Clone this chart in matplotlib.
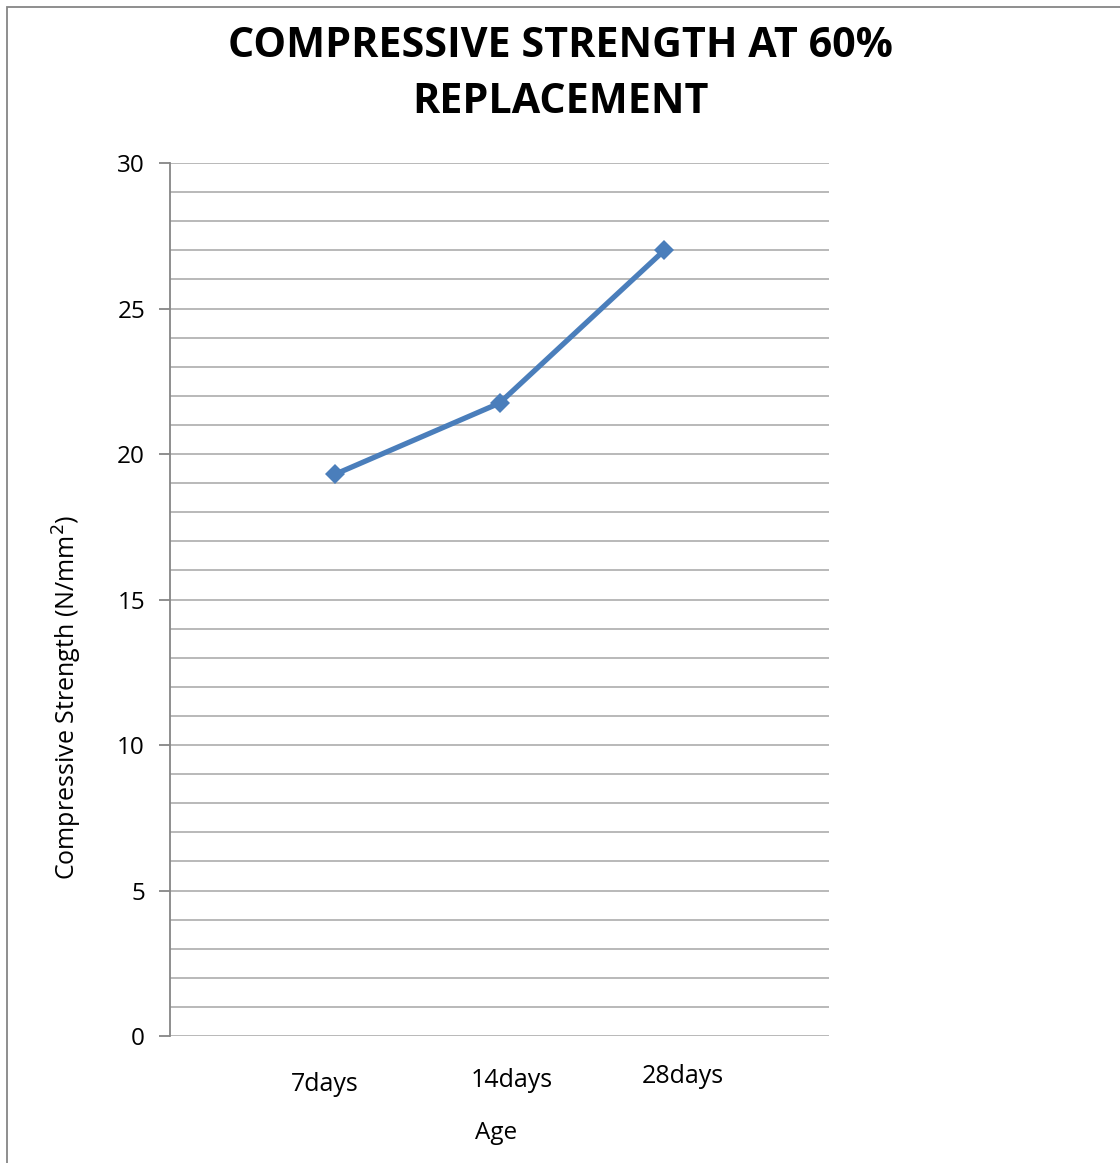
import matplotlib.pyplot as plt
from matplotlib.transforms import ScaledTranslation
from matplotlib.patches import Rectangle

plt.rcParams['font.family'] = ['Open Sans', 'DejaVu Sans']

# data
ages = ['7days', '14days', '28days']
strength = [19.3, 21.75, 27.0]
positions = [1, 2, 3]

fig = plt.figure(figsize=(11.2, 11.63), dpi=100)
ax = fig.add_axes([0.1518, 0.1092, 0.5884, 0.7506])

# grid every 1 unit, labels every 5
ax.set_ylim(0, 30)
ax.set_xlim(0, 4)
ax.set_yticks(range(0, 31, 5))
ax.set_yticks(range(0, 31), minor=True)
ax.grid(axis='y', which='both', color='#b3b3b3', linewidth=1.3)
ax.set_axisbelow(True)
ax.tick_params(axis='y', which='minor', length=0)
ax.tick_params(axis='y', which='major', length=8, width=1.3, color='#868686',
               labelsize=17.5, pad=10)
for s in ['top', 'right', 'bottom']:
    ax.spines[s].set_visible(False)
ax.spines['left'].set_color('#868686')
ax.spines['left'].set_linewidth(1.3)

ax.plot(positions, strength, color='#4a7ebb', linewidth=3.8, marker='D',
        markersize=10, markeredgewidth=0)

ax.set_xticks(positions)
ax.set_xticklabels(ages)
ax.tick_params(axis='x', length=0, labelsize=18, pad=26)
# labels sit a bit off the points in the original
offs = [(-10, 0), (12, -4), (19, -8)]
for lab, (dx, dy) in zip(ax.get_xticklabels(), offs):
    lab.set_transform(lab.get_transform() + ScaledTranslation(dx / 100, -dy / 100, fig.dpi_scale_trans))

ax.set_xlabel('Age', fontsize=17.5)
ax.xaxis.set_label_coords(0.495, -0.097)
ax.set_ylabel('Compressive Strength (N/mm$^2$)', fontsize=18)
ax.yaxis.set_label_coords(-0.13, 0.388)

fig.suptitle('COMPRESSIVE STRENGTH AT 60%\nREPLACEMENT', fontsize=29.7,
             fontweight='bold', y=0.978, linespacing=1.5)

fig.patches.append(Rectangle((7 / 1120, -0.1), 1.2, 1.1 - 7 / 1163,
                             transform=fig.transFigure, fill=False,
                             edgecolor='#868686', linewidth=1.3))

fig.savefig('out.png', dpi=100)
